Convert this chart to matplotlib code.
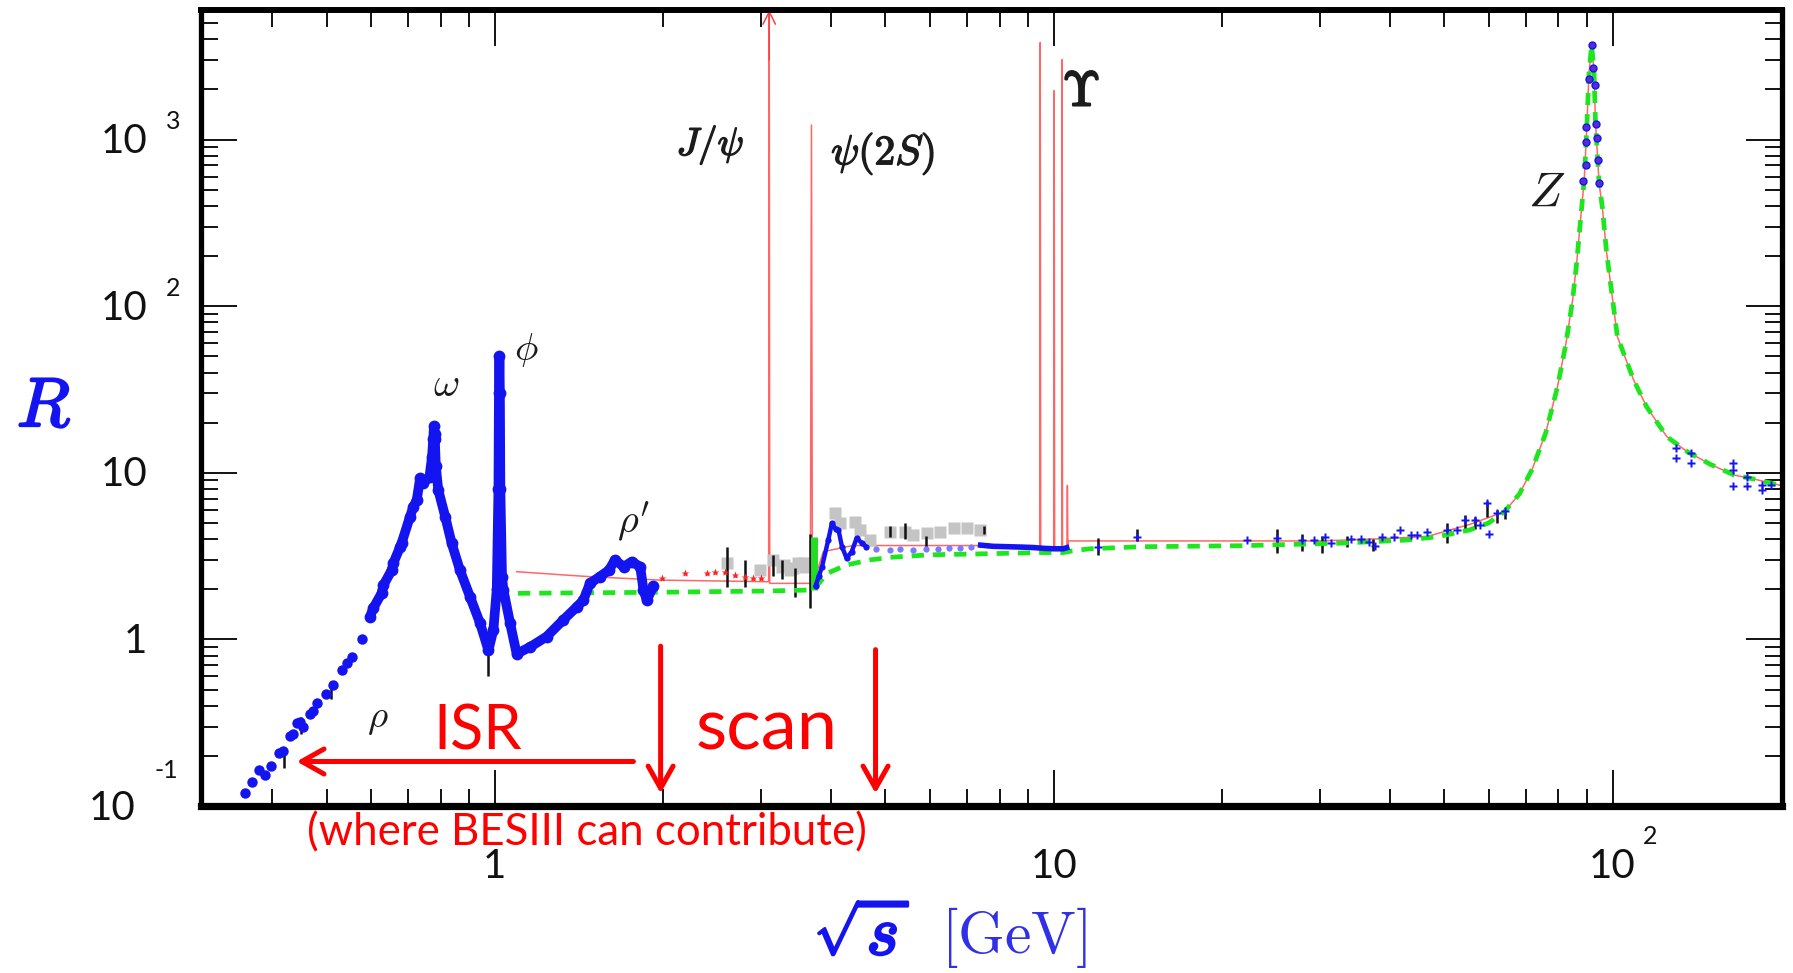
import numpy as np
import matplotlib
matplotlib.use("Agg")
import matplotlib.pyplot as plt
from matplotlib import patheffects as pe
from matplotlib.ticker import LogLocator, NullFormatter
from matplotlib.transforms import blended_transform_factory as blend, offset_copy

plt.rcParams['mathtext.fontset'] = 'cm'

# ---------------- data ----------------
# low-energy blue points: sparse rho tail
tail_E = [0.357, 0.367, 0.379, 0.388, 0.397, 0.411, 0.417, 0.430, 0.436, 0.442, 0.448,
          0.454, 0.467, 0.473, 0.480, 0.499, 0.514, 0.532, 0.543, 0.555, 0.578]
tail_R = [0.120, 0.139, 0.165, 0.153, 0.175, 0.208, 0.214, 0.262, 0.270, 0.313, 0.320,
          0.296, 0.359, 0.372, 0.416, 0.473, 0.531, 0.654, 0.717, 0.786, 1.00]
# dense low-energy blue points (rho/omega, phi, rho')
dense_E = [0.598, 0.606, 0.627, 0.632, 0.654, 0.658, 0.677, 0.681, 0.705, 0.715, 0.725,
           0.735, 0.745, 0.764, 0.772, 0.776, 0.778, 0.780, 0.781, 0.784, 0.792, 0.815,
           0.837, 0.866, 0.903, 0.941, 0.974, 0.994, 1.008, 1.015, 1.017, 1.019, 1.021,
           1.023, 1.030, 1.036, 1.065, 1.094, 1.156, 1.238, 1.326, 1.402, 1.44, 1.48,
           1.54, 1.60, 1.64, 1.70, 1.758, 1.82, 1.845, 1.87, 1.921]
dense_R = [1.37, 1.54, 1.89, 2.12, 2.61, 2.86, 3.60, 3.78, 5.46, 6.27, 6.88,
           9.29, 8.67, 9.5, 12.5, 16.0, 19.0, 17.0, 16.0, 11.0, 7.9, 5.46,
           3.78, 2.61, 1.80, 1.25, 0.86, 1.14, 2.0, 8.0, 30.0, 50.0, 30.0,
           8.0, 2.37, 1.98, 1.25, 0.82, 0.90, 1.04, 1.31, 1.57, 1.72, 2.17,
           2.38, 2.6, 3.0, 2.73, 2.93, 2.73, 1.98, 1.72, 2.08]
# blue data above open charm threshold
mid_E = [3.75, 3.80, 3.85, 3.95, 4.01, 4.07, 4.12, 4.18, 4.26, 4.35, 4.44, 4.54, 4.62]
mid_R = [2.1, 2.4, 2.73, 3.95, 4.99, 4.6, 4.54, 3.6, 3.07, 3.36, 4.05, 3.78, 3.6]
light_E = [4.8, 5.1, 5.3, 5.6, 5.9, 6.2, 6.5, 6.8, 7.1]
light_R = [3.5, 3.45, 3.5, 3.45, 3.5, 3.5, 3.55, 3.55, 3.6]
ups_E = [7.4, 7.8, 8.3, 8.8, 9.2, 9.6, 10.0, 10.4, 10.55]
ups_R = [3.68, 3.62, 3.6, 3.58, 3.56, 3.52, 3.5, 3.5, 3.55]
# blue data points at high energy
hi_E = [12.0, 14.1, 22.2, 25.1, 27.8, 29.2, 30.6, 31.3, 34.0, 35.4, 36.6, 37.6, 38.7,
        40.6, 41.7, 43.5, 44.7, 46.5, 50.5, 52.7, 54.5, 56.8, 58.0, 59.6, 60.0, 62.1,
        64.3, 130, 130, 138, 138, 164, 164, 164, 174, 174, 185, 185, 192]
hi_R = [3.6, 4.14, 3.95, 4.05, 3.95, 3.95, 4.14, 3.78, 4.0, 4.0, 3.87, 3.66, 4.14,
        4.14, 4.54, 4.24, 4.24, 4.44, 4.54, 4.54, 5.22, 5.22, 4.86, 6.57, 4.3, 5.72,
        5.87, 14.1, 12.3, 13.1, 11.5, 11.4, 10.4, 8.3, 9.5, 8.3, 8.5, 7.9, 8.4]
zpk_E = [88.6, 89.6, 89.8, 89.8, 90.7, 91.7, 92.4, 93.0, 93.5, 93.9, 94.3, 94.6]
zpk_R = [564, 705, 971, 1184, 2307, 3690, 2677, 2140, 1244, 1021, 758, 550]
# grey points
grey_E = [2.60, 2.98, 3.15, 3.26, 3.29, 3.38, 3.42, 3.49, 3.57, 3.59, 4.06, 4.15, 4.41,
          4.51, 4.69, 5.10, 5.42, 5.61, 5.93, 6.26, 6.62, 6.99, 7.39]
grey_R = [2.86, 2.61, 3.0, 2.73, 2.80, 2.61, 2.67, 2.86, 2.86, 2.73, 5.72, 4.99, 5.09,
          4.54, 3.95, 4.44, 4.44, 4.24, 4.34, 4.44, 4.65, 4.65, 4.55]
# black error bars
err_E = [0.42, 0.45, 0.51, 0.974, 2.60, 2.80, 3.15, 3.26, 3.45, 3.67, 3.70, 5.10, 5.42,
         5.9, 7.5, 12.0, 14.1, 25.1, 27.8, 30.2, 33.5, 37.3, 50.5, 54.5, 56.8, 59.6, 62.0, 64.3]
err_lo = [0.17, 0.27, 0.44, 0.60, 2.07, 2.07, 2.4, 2.3, 1.8, 1.55, 2.0, 4.1, 4.0,
          3.6, 4.3, 3.21, 3.9, 3.3, 3.4, 3.3, 3.6, 3.4, 3.8, 4.4, 4.6, 5.4, 5.0, 5.3]
err_hi = [0.22, 0.34, 0.56, 0.90, 3.6, 3.0, 3.2, 3.0, 2.7, 4.3, 3.0, 4.8, 5.0,
          4.2, 4.8, 4.05, 4.6, 4.6, 4.3, 4.2, 4.2, 4.0, 5.0, 5.6, 5.4, 6.8, 6.0, 6.1]
# red stars
star_E = [1.99, 2.19, 2.395, 2.48, 2.58, 2.69, 2.80, 2.90, 3.00]
star_R = [2.33, 2.49, 2.49, 2.55, 2.55, 2.44, 2.38, 2.33, 2.33]
# green bar near psi(2S)
gbar_E = [3.73]
gbar_lo = [1.98]
gbar_hi = [4.1]
# Z line shape (shared by both curves)
z_E = [64.0, 68.1, 71.8, 75.9, 79.7, 82.5, 84.8, 86.3, 87.8, 89.0, 89.9, 90.7, 91.7,
       92.6, 93.2, 94.6, 95.9, 97.5, 99.9, 102.0, 109, 115, 125, 136, 150, 165, 181, 200]
z_R = [5.83, 7.45, 10.5, 17.3, 32.8, 59.4, 108, 185, 352, 578, 1155, 2425, 3700,
       2677, 1274, 550, 389, 215, 113, 65.7, 36.3, 25, 16.5, 13.4, 11.2, 9.7, 9.1, 8.4]
# red curve (with resonance spikes)
red_E = [1.094, 1.3, 1.48, 1.976, 3.05, 3.090, 3.097, 3.104, 3.670, 3.686, 3.700, 3.75,
         3.87, 4.26, 4.4, 7.49, 7.6, 9.44, 9.46, 9.48, 10.00, 10.02, 10.04, 10.34, 10.355,
         10.37, 10.56, 10.58, 10.60, 10.62, 11.0, 30.0, 37.0, 46.5, 55.5]
red_R = [2.55, 2.45, 2.38, 2.27, 2.22, 2.22, 1e4, 2.17, 2.17, 1224, 2.2, 2.4,
         3.36, 3.6, 3.66, 3.66, 3.56, 3.56, 3826, 3.56, 3.56, 1968, 3.56, 3.56, 3020,
         3.56, 3.56, 8.4, 3.6, 3.9, 3.9, 3.9, 4.0, 4.14, 4.9]
# green dashed curve
green_E = [1.1, 2.0, 3.0, 3.7, 3.77, 3.93, 4.26, 4.69, 5.1, 6.0, 7.0, 9.5, 10.4, 10.8,
           11.6, 14.3, 21.6, 32.6, 42.9, 48.8, 55.5, 60.0]
green_R = [1.89, 1.92, 1.95, 1.98, 2.1, 2.49, 2.8, 3.0, 3.11, 3.22, 3.25, 3.32, 3.32, 3.4,
           3.5, 3.6, 3.65, 3.78, 3.95, 4.14, 4.54, 5.0]
jpsi_E = 3.097

# tick labels
ylab_vals = [0.1, 1, 10, 100, 1000]
ylab_base = ['10', '1', '10', '10', '10']
ylab_exp = ['-1', '', '', '2', '3']
xlab_vals = [1, 10, 100]
xlab_base = ['1', '10', '10']
xlab_exp = ['', '', '2']

# ---------------- figure ----------------
W, H, DPI = 1793, 973, 100
fig = plt.figure(figsize=(W / DPI, H / DPI), dpi=DPI)
L, Rr, T, B = 201, 1782, 10, 806
ax = fig.add_axes([L / W, 1 - B / H, (Rr - L) / W, (B - T) / H])
ax.set_xscale('log')
ax.set_yscale('log')
ax.set_xlim(0.298, 201)
ax.set_ylim(0.1, 6000)

BLUE = '#1414f0'
RED_LINE = '#ff4040'

# red theory curve
ax.plot(red_E + z_E, red_R + z_R, color=RED_LINE, lw=1.1, alpha=0.8, zorder=2)
# J/psi arrow head at top
ax.annotate('', xy=(jpsi_E, 6000), xytext=(jpsi_E, 3000),
            arrowprops=dict(arrowstyle='->,head_length=0.9,head_width=0.45',
                            color=RED_LINE, lw=1.1, shrinkA=0, shrinkB=0),
            annotation_clip=False, zorder=2)

# grey data
ax.plot(grey_E, grey_R, 's', color='#c4c4c4', ms=9, mec='none', zorder=2.4)
# black error bars
ax.vlines(err_E, err_lo, err_hi, color='#111111', lw=1.8, zorder=2.6)
# green bar
ax.vlines(gbar_E, gbar_lo, gbar_hi, color='#22dd22', lw=5, zorder=2.7)
# red stars
ax.plot(star_E, star_R, '*', color='#ff2020', ms=6, mec='none', zorder=2.8)

# green dashed curve
ax.plot(green_E + z_E, green_R + z_R, color='#1ee61e', lw=3.4, ls=(0, (2.6, 1.9)),
        zorder=3, dash_capstyle='butt')

# blue data
ax.plot(tail_E, tail_R, 'o', color=BLUE, ms=7.5, mec='none', zorder=4)
ax.plot(dense_E, dense_R, '-', color=BLUE, lw=7, solid_joinstyle='round',
        solid_capstyle='round', zorder=4)
ax.plot(dense_E, dense_R, 'o', color=BLUE, ms=8.5, mec='none', zorder=4)
ax.plot(mid_E, mid_R, '-', color=BLUE, lw=3.2, zorder=4)
ax.plot(mid_E, mid_R, 'o', color=BLUE, ms=4.5, mec='none', zorder=4)
ax.plot(light_E, light_R, 'o', color='#7a7aff', ms=4.5, mec='none', zorder=4)
ax.plot(ups_E, ups_R, '-', color=BLUE, lw=4, zorder=4)
ax.plot(hi_E, hi_R, 'P', color=BLUE, ms=6, mec='none', zorder=4)
ax.plot(zpk_E, zpk_R, 'o', color='#5a2ad8', ms=5, mec=BLUE, mew=1, zorder=4)

# ---------------- axes styling ----------------
for side, lw in (('left', 3.8), ('right', 3.8), ('top', 4.3), ('bottom', 5.2)):
    ax.spines[side].set_linewidth(lw)
    ax.spines[side].set_color('black')
    ax.spines[side].set_zorder(10)

ax.xaxis.set_major_locator(LogLocator(base=10, numticks=20))
ax.xaxis.set_minor_locator(LogLocator(base=10, subs=np.arange(2, 10), numticks=20))
ax.yaxis.set_major_locator(LogLocator(base=10, numticks=20))
ax.yaxis.set_minor_locator(LogLocator(base=10, subs=np.arange(2, 10), numticks=20))
ax.xaxis.set_minor_formatter(NullFormatter())
ax.yaxis.set_minor_formatter(NullFormatter())
ax.tick_params(which='major', direction='in', length=26, width=1.4, top=True, right=True,
               labelleft=False, labelbottom=False, color='#111111')
ax.tick_params(which='minor', direction='in', length=12.5, width=1.4, top=True, right=True,
               color='#111111')

TICKFONT = 'Lato'
ytr = blend(fig.transFigure, ax.transData)
for v, b, e in zip(ylab_vals, ylab_base, ylab_exp):
    neg = e.startswith('-')
    bx = (135 if neg else 147) / W
    ex = (155 if neg else 166) / W
    ax.text(bx, v, b, transform=offset_copy(ytr, fig=fig, x=0, y=-2, units='dots'),
            ha='right', va='center', fontsize=29, family=TICKFONT, color='#111111')
    if e:
        ax.text(ex, v, e, transform=offset_copy(ytr, fig=fig, x=0, y=36 if neg else 18,
                                                  units='dots'),
                ha='left', va='center', fontsize=18, family=TICKFONT, color='#111111')

xtr = blend(ax.transData, fig.transFigure)
for v, b, e in zip(xlab_vals, xlab_base, xlab_exp):
    ax.text(v, 1 - 867 / H, b, transform=xtr, ha='center', va='center', fontsize=29,
            family=TICKFONT, color='#111111')
    if e:
        ax.text(v, 1 - 836 / H, e, transform=offset_copy(xtr, fig=fig, x=30, y=0, units='dots'),
                ha='left', va='center', fontsize=18, family=TICKFONT, color='#111111')

# axis titles
bold_blue = [pe.withStroke(linewidth=1.6, foreground=BLUE)]
fig.text(44 / W, 1 - 407 / H, r'$R$', fontsize=50, color=BLUE, ha='center', va='center',
         path_effects=bold_blue)
fig.text(862 / W, 1 - 935 / H, r'$\sqrt{s}$', fontsize=50, color=BLUE, ha='center',
         va='center', path_effects=[pe.withStroke(linewidth=2.0, foreground=BLUE)])
fig.text(1014 / W, 1 - 937 / H, r'$[\mathrm{GeV}]$', fontsize=43, color='#3030e8',
         ha='center', va='center')

# resonance labels
LBL = '#1c1c1c'
bold_k = [pe.withStroke(linewidth=1.0, foreground=LBL)]
ax.text(0.819, 33.8, r'$\omega$', fontsize=29, color=LBL, ha='center', va='center')
ax.text(1.14, 54.5, r'$\phi$', fontsize=28, color=LBL, ha='center', va='center')
ax.text(1.768, 5.15, r"$\rho'$", fontsize=29, color=LBL, ha='center', va='center')
ax.text(0.617, 0.339, r'$\rho$', fontsize=28, color=LBL, ha='center', va='center')
ax.text(2.43, 925, r'$J/\psi$', fontsize=28, color=LBL, ha='center', va='center',
        path_effects=bold_k)
ax.text(4.95, 823, r'$\psi(2S)$', fontsize=30, color=LBL, ha='center', va='center',
        path_effects=bold_k)
ax.text(11.2, 1941, r'$\Upsilon$', fontsize=35, color=LBL, ha='center', va='center',
        path_effects=[pe.withStroke(linewidth=1.6, foreground=LBL)])
ax.text(76.1, 483, r'$Z$', fontsize=35, color=LBL, ha='center', va='center')

# ---------------- BESIII annotations ----------------
ARW = dict(arrowstyle='->,head_length=0.8,head_width=0.45', color='#ff0000', lw=3.6,
           shrinkA=0, shrinkB=0, mutation_scale=20)
ax.annotate('', xy=(0.442, 0.185), xytext=(1.77, 0.185), arrowprops=ARW,
            annotation_clip=False, zorder=6)
ax.annotate('', xy=(1.98, 0.119), xytext=(1.98, 0.911), arrowprops=ARW,
            annotation_clip=False, zorder=6)
ax.annotate('', xy=(4.8, 0.119), xytext=(4.8, 0.868), arrowprops=ARW,
            annotation_clip=False, zorder=6)
ax.text(0.933, 0.219, 'ISR', fontsize=44, family='Lato', color='#ff0000',
        ha='center', va='baseline', zorder=6)
ax.text(3.07, 0.219, 'scan', fontsize=52, family='Lato', color='#ff0000',
        ha='center', va='baseline', zorder=6)
fig.text(587 / W, 1 - 845 / H, '(where BESIII can contribute)', fontsize=31.5,
         family='Lato', color='#ff0000', ha='center', va='baseline')

fig.savefig('out.png', dpi=DPI)
